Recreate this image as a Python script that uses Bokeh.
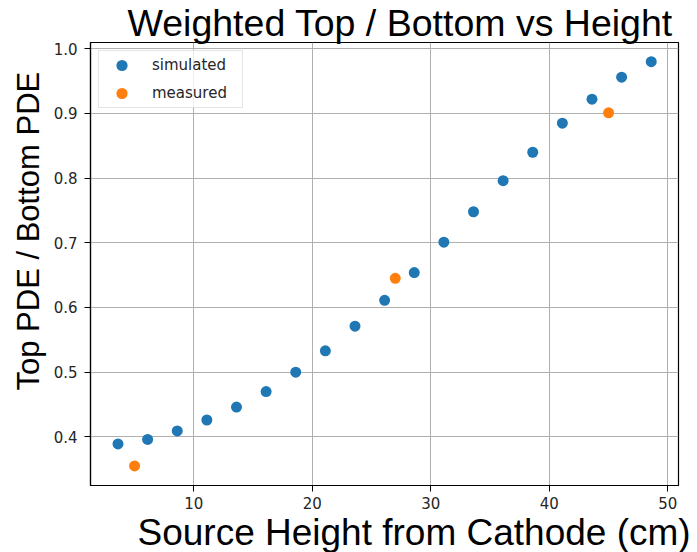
from bokeh.embed import file_html
from bokeh.models import (FixedTicker, Legend, LegendItem, PrintfTickFormatter,
                          Range1d, Title)
from bokeh.plotting import figure
from bokeh.resources import INLINE

# Source heights (cm) and weighted Top/Bottom PDE ratios
sim_height = [3.6, 6.1, 8.6, 11.1, 13.6, 16.1, 18.6, 21.1, 23.6, 26.1,
              28.6, 31.1, 33.6, 36.1, 38.6, 41.1, 43.6, 46.1, 48.6]
sim_ratio = [0.389, 0.396, 0.409, 0.426, 0.446, 0.470, 0.500, 0.533, 0.571, 0.611,
             0.654, 0.701, 0.748, 0.796, 0.840, 0.885, 0.922, 0.956, 0.980]

meas_height = [5.0, 27.0, 45.0]
meas_ratio = [0.355, 0.645, 0.901]

x_ticks = [10, 20, 30, 40, 50]
y_ticks = [0.4, 0.5, 0.6, 0.7, 0.8, 0.9, 1.0]

title_text = "Weighted Top / Bottom vs Height"
x_label = "Source Height from Cathode (cm)"
y_label = "Top PDE / Bottom PDE"

BLUE = "#1f77b4"
ORANGE = "#ff7f0e"
TICK_FONT = "DejaVu Sans"
LABEL_FONT = "Liberation Sans"

p = figure(
    width=697, height=552,
    x_range=Range1d(1.28, 50.9), y_range=Range1d(0.3247, 1.0097),
    output_backend="svg", toolbar_location=None,
    min_border_left=90, min_border_right=19,
    min_border_top=42, min_border_bottom=67,
)
p.background_fill_color = "white"
p.border_fill_color = "white"
p.outline_line_color = "black"
p.outline_line_width = 1.2

for ax, ticks in ((p.xaxis, x_ticks), (p.yaxis, y_ticks)):
    ax.ticker = FixedTicker(ticks=ticks)
    ax.minor_tick_line_color = None
    ax.major_tick_in = 0
    ax.major_tick_out = 6
    ax.major_tick_line_color = "black"
    ax.axis_line_color = "black"
    ax.axis_line_width = 1.2
    ax.major_label_text_font = TICK_FONT
    ax.major_label_text_font_size = "15px"
    ax.major_label_text_color = "#262626"
p.xaxis.major_label_standoff = 5
p.yaxis.major_label_standoff = 7
p.yaxis.formatter = PrintfTickFormatter(format="%.1f")

p.grid.grid_line_color = "#b0b0b0"
p.grid.grid_line_width = 1

sim = p.scatter(sim_height, sim_ratio, size=11, fill_color=BLUE, line_color=None)
meas = p.scatter(meas_height, meas_ratio, size=11, fill_color=ORANGE, line_color=None)

legend = Legend(
    items=[LegendItem(label="simulated", renderers=[sim]),
           LegendItem(label="measured", renderers=[meas])],
    location="top_left",
    margin=8, padding=0, spacing=0,
    glyph_width=45, glyph_height=28, label_height=28,
    label_width=90, label_standoff=8,
    label_text_font=TICK_FONT, label_text_font_size="15px",
    label_text_color="#262626",
    border_line_color="#cccccc", border_line_width=1,
    background_fill_color="white", background_fill_alpha=0.8,
)
p.add_layout(legend)

# Plot title
p.title.text = title_text
p.title.text_font = LABEL_FONT
p.title.text_font_size = "37.5px"
p.title.text_font_style = "normal"
p.title.text_color = "black"
p.title.align = "left"
p.title.offset = 37
p.title.standoff = -2

# Axis titles, set in the side panels
p.add_layout(Title(
    text=x_label, text_font=LABEL_FONT, text_font_size="37px",
    text_font_style="normal", text_color="black",
    align="left", offset=47, standoff=-4,
), "below")
p.add_layout(Title(
    text=y_label, text_font=LABEL_FONT, text_font_size="31px",
    text_font_style="normal", text_color="black",
    align="left", offset=95, standoff=10,
), "left")

open("out.html", "w").write(file_html(p, INLINE))
